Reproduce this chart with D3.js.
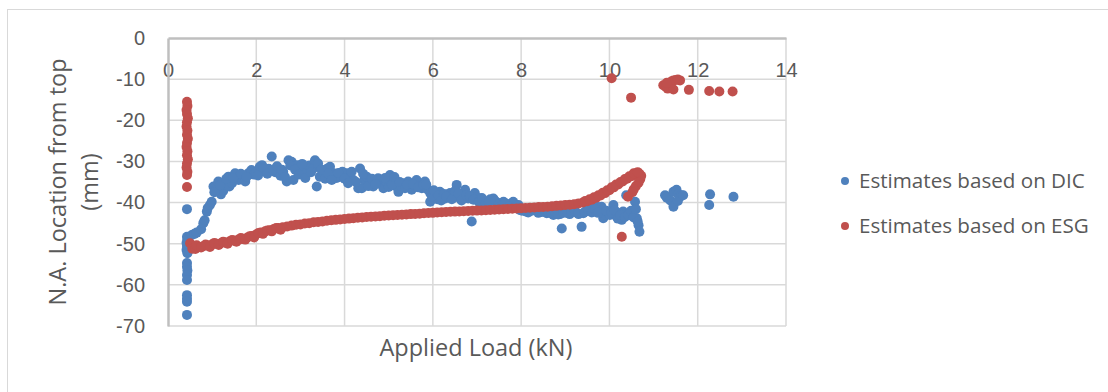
<!DOCTYPE html>
<html>
<head>
<meta charset="utf-8">
<script src="https://cdn.jsdelivr.net/npm/d3@7"></script>
<style>
  html, body { margin: 0; padding: 0; background: #fff; }
  svg { display: block; font-family: "Open Sans", sans-serif; }
</style>
</head>
<body>
<div id="chart"></div>
<script>
// axis ticks
const xTicks = [0, 2, 4, 6, 8, 10, 12, 14];
const yTicks = [0, -10, -20, -30, -40, -50, -60, -70];

// Estimates based on DIC
const dicX = [0.43, 0.43, 0.44, 0.42, 0.43, 0.42, 0.44, 0.43, 0.43, 0.44, 0.43, 0.43, 0.43, 0.43, 0.43, 0.43,
  0.54, 0.6, 0.65, 0.75, 0.8, 0.83, 0.88, 0.9, 0.95, 0.99, 1.03, 1.1, 1.14, 1.2, 1.25, 1.3, 1.37, 1.39, 1.45, 1.52,
  1.6, 1.7, 1.75, 1.82, 1.89, 1.95, 2.0, 2.08, 2.13, 2.2, 2.28, 2.35, 2.43, 2.5, 2.55, 2.61, 2.69, 2.73, 2.8, 2.84,
  2.92, 3.0, 3.07, 3.14, 3.2, 3.29, 3.33, 3.37, 3.44, 3.52, 3.6, 3.67, 3.75, 3.82, 3.9, 3.95, 4.05, 4.12, 4.2, 4.31,
  4.35, 4.39, 4.45, 4.5, 4.58, 4.65, 4.76, 4.82, 4.88, 4.95, 5.03, 5.1, 5.16, 5.22, 5.28, 5.33, 5.44, 5.48, 5.52,
  5.58, 5.63, 5.7, 5.75, 5.82, 5.88, 5.94, 5.94, 6.05, 6.1, 6.16, 6.22, 6.28, 6.34, 6.39, 6.46, 6.54, 6.62, 6.68,
  6.73, 6.8, 6.88, 6.95, 7.0, 7.07, 7.15, 7.22, 7.3, 7.37, 7.45, 7.52, 7.6, 7.67, 7.75, 7.82, 7.9, 7.97, 8.05, 8.12,
  8.2, 8.28, 8.35, 8.43, 8.5, 8.58, 8.65, 8.73, 8.8, 8.88, 8.92, 9.03, 9.1, 9.18, 9.25, 9.37, 9.41, 9.48, 9.56, 9.63,
  9.71, 9.76, 9.82, 9.86, 9.9, 9.96, 10.01, 10.09, 10.16, 10.22, 10.28, 10.31, 10.38, 10.4, 10.46, 10.52, 10.58,
  10.62, 10.66, 10.68,
  11.26, 11.3, 11.38, 11.45, 11.45, 11.52, 11.56, 11.6, 11.63, 11.55, 11.67, 12.26, 12.28, 12.81,
  1.05, 1.18, 1.32, 1.48, 1.65, 1.78, 2.04, 2.17, 2.25, 2.38, 2.47, 2.58, 2.65, 2.77, 2.88, 2.96, 3.04, 3.11, 3.24,
  3.4, 3.48, 3.56, 3.63, 3.71, 3.86, 4.0, 4.08, 4.16, 4.26, 4.42, 4.54, 4.62, 4.7, 4.92, 5.0, 5.07, 5.13, 5.25,
  5.37, 5.41, 5.55, 5.67, 5.79, 5.85, 5.98, 6.02, 6.13, 6.19, 6.25, 6.31, 6.43, 6.5, 6.58, 6.65, 6.76, 6.84, 6.92,
  7.04, 7.11, 7.19, 7.27, 7.41, 7.49, 7.57, 7.64, 7.72, 7.86, 7.94, 8.02, 8.09, 8.16, 8.24, 8.32, 8.39, 8.47, 8.54,
  8.62, 8.69, 8.76, 8.84, 8.96, 9.06, 9.14, 9.21, 9.3, 9.44, 9.52, 9.6, 9.67, 9.74, 9.93, 10.05, 10.12, 10.19,
  10.25, 10.35, 10.43, 10.49, 10.55, 10.6, 10.64];
const dicY = [-41.6, -48.3, -49.0, -49.8, -50.5, -51.5, -52.3, -54.7, -55.6, -56.5, -57.6, -58.8, -62.5, -63.4, -64.1, -67.3,
  -47.9, -47.6, -47.3, -46.5, -45.0, -44.3, -42.2, -41.3, -40.6, -39.8, -36.1, -36.5, -34.9, -38.0, -37.2, -35.6, -33.7, -36.1, -35.3, -32.9,
  -34.5, -33.6, -34.9, -32.9, -32.1, -33.2, -32.5, -31.3, -30.9, -32.5, -31.8, -28.8, -32.6, -32.0, -33.5, -32.5, -34.9, -29.7, -30.1, -34.5,
  -30.9, -31.5, -32.1, -32.9, -31.0, -31.7, -29.7, -36.1, -33.7, -32.9, -31.8, -31.3, -32.9, -34.0, -33.7, -32.5, -32.9, -33.8, -34.5, -36.5,
  -31.7, -36.5, -34.5, -33.7, -35.0, -36.1, -34.1, -35.5, -36.5, -35.0, -33.3, -34.9, -36.0, -37.4, -36.0, -35.3, -34.9, -36.3, -36.9,
  -35.8, -34.5, -35.8, -36.5, -34.9, -36.8, -37.7, -39.8, -38.2, -39.2, -37.4, -38.5, -39.0, -38.0, -37.7, -38.8, -35.7, -39.0, -38.0,
  -36.9, -39.0, -44.6, -37.7, -38.8, -39.0, -39.6, -39.8, -39.2, -39.0, -40.0, -40.2, -39.8, -40.6, -40.3, -39.8, -41.0, -41.8, -41.5, -42.2,
  -41.7, -41.8, -42.0, -42.2, -41.8, -42.6, -42.2, -43.0, -42.4, -42.8, -46.3, -42.2, -42.8, -41.8, -42.4, -45.9, -42.6, -42.0, -41.4, -42.2,
  -41.0, -41.8, -41.0, -43.8, -43.0, -42.4, -43.0, -40.6, -43.4, -42.6, -44.2, -42.2, -38.2, -42.8, -42.6, -43.2, -39.8,
  -43.8, -45.5, -47.1,
  -38.2, -38.8, -39.5, -37.4, -41.0, -36.9, -38.0, -38.6, -38.2, -39.6, -38.2, -40.6, -38.0, -38.6,
  -37.5, -35.8, -34.2, -34.0, -33.0, -33.8, -33.4, -31.6, -33.0, -32.0, -31.2, -32.0, -33.8, -31.0, -32.0, -33.2, -30.6, -34.0, -32.6,
  -30.5, -32.0, -34.2, -33.0, -34.5, -32.8, -34.2, -35.3, -32.5, -35.0, -33.0, -36.0, -34.2, -35.5, -34.0, -36.2, -35.6, -33.8, -35.0,
  -36.5, -35.6, -35.5, -36.3, -35.7, -35.6, -38.5, -37.0, -38.3, -39.5, -37.9, -38.6, -39.2, -37.2, -37.8, -39.5, -38.2, -38.4, -39.3,
  -39.8, -38.9, -40.4, -39.9, -39.6, -40.5, -40.6, -40.2, -41.0, -40.9, -40.6, -42.0, -41.6, -42.4, -42.0, -41.7, -42.5, -42.3, -41.9,
  -42.4, -42.6, -42.1, -42.9, -42.5, -42.6, -42.3, -42.0, -42.8, -42.3, -41.8, -42.4, -41.6, -42.5, -42.0, -42.4, -41.9, -43.9,
  -43.0, -43.5, -43.0, -42.0, -43.6, -41.6, -44.6];

// Estimates based on ESG
const esgX = [0.43, 0.44, 0.42, 0.43, 0.45, 0.43, 0.42, 0.44, 0.43, 0.45, 0.43, 0.42, 0.44, 0.43, 0.45, 0.43, 0.42, 0.44, 0.43, 0.43,
  0.50, 0.55, 0.62, 0.70, 0.80, 0.90, 1.00, 1.10, 1.20, 1.30, 1.40, 1.50, 1.60, 1.70, 1.80, 1.90, 2.00, 2.10, 2.20, 2.30,
  2.40, 2.50, 2.60, 2.70, 2.80, 2.90, 3.00, 3.10, 3.20, 3.30, 3.40, 3.50, 3.60, 3.70, 3.80, 3.90, 4.00, 4.10, 4.20, 4.30,
  4.40, 4.50, 4.60, 4.70, 4.80, 4.90, 5.00, 5.10, 5.20, 5.30, 5.40, 5.50, 5.60, 5.70, 5.80, 5.90, 6.00, 6.10, 6.20, 6.30,
  6.40, 6.50, 6.60, 6.70, 6.80, 6.90, 7.00, 7.10, 7.20, 7.30, 7.40, 7.50, 7.60, 7.70, 7.80, 7.90, 8.00, 8.10, 8.20, 8.30,
  8.40, 8.50, 8.60, 8.70, 8.80, 8.90, 9.00, 9.10, 9.20, 9.30, 9.40, 9.50, 9.60, 9.70, 9.80, 9.90, 10.00, 10.10, 10.20,
  10.30, 10.40, 10.50, 10.60, 10.68, 10.72, 10.70, 10.66, 10.60, 10.55, 10.52,
  10.42, 10.28, 10.05, 10.49, 11.22, 11.28, 11.32, 11.35, 11.40, 11.45, 11.50, 11.55, 11.60, 11.45, 11.30, 11.80, 12.26, 12.49, 12.79,
  0.65, 0.75, 0.85, 0.95, 1.05, 1.15, 1.25, 1.35, 1.45, 1.55, 1.65, 1.75, 1.85, 1.95, 2.05, 2.15, 2.25, 2.35, 2.45, 2.55,
  9.45, 9.55, 9.65, 9.75, 9.85, 9.95, 10.05, 10.15, 10.25, 10.35, 10.45, 10.55, 10.64];
const esgY = [-15.5, -16.5, -17.5, -18.5, -19.5, -20.5, -21.5, -22.5, -23.5, -24.5, -25.5, -26.5, -27.5, -28.5, -29.5, -30.5, -31.5, -32.5, -33.3, -36.2,
  -49.9, -51.2, -51.3, -50.8, -50.6, -50.4, -50.2, -50.0, -49.9, -49.7, -49.4, -49.2, -49.0, -48.8, -48.5, -48.1, -47.7, -47.3, -47.0, -46.7,
  -46.4, -46.2, -46.0, -45.8, -45.6, -45.4, -45.3, -45.1, -45.0, -44.8, -44.7, -44.6, -44.4, -44.3, -44.2, -44.1, -44.0, -43.9, -43.8, -43.7,
  -43.6, -43.5, -43.45, -43.4, -43.3, -43.2, -43.15, -43.1, -43.0, -42.95, -42.9, -42.8, -42.75, -42.7, -42.6, -42.55, -42.5, -42.4, -42.35, -42.3,
  -42.25, -42.2, -42.15, -42.1, -42.05, -42.0, -41.95, -41.9, -41.85, -41.8, -41.75, -41.7, -41.6, -41.55, -41.5, -41.45, -41.4, -41.3, -41.25, -41.2,
  -41.1, -41.05, -41.0, -40.9, -40.8, -40.7, -40.6, -40.5, -40.4, -40.2, -40.0, -39.7, -39.3, -38.8, -38.3, -37.7, -37.0, -36.3, -35.6,
  -34.9, -34.2, -33.6, -33.1, -33.0, -33.5, -34.3, -35.2, -36.0, -36.8, -37.5,
  -38.6, -48.3, -9.8, -14.5, -11.5, -11.9, -12.3, -11.0, -10.6, -10.3, -10.2, -10.1, -10.3, -12.5, -10.9, -12.6, -12.9, -13.0, -13.0,
  -50.4, -50.9, -50.2, -50.8, -49.8, -50.3, -49.5, -50.0, -49.1, -49.5, -48.6, -49.0, -48.2, -48.5, -47.4, -47.6, -46.8, -47.0, -46.2, -46.6,
  -39.6, -39.2, -38.7, -38.2, -37.6, -37.0, -36.3, -35.6, -35.0, -34.3, -33.6, -32.9, -32.6];

const seriesNames = ['Estimates based on DIC', 'Estimates based on ESG'];
const colors = ['#4f81bd', '#c0504d'];

const width = 1108, height = 392;
const plot = { left: 168, right: 786, top: 38, bottom: 326 };

const svg = d3.select('#chart').append('svg')
  .attr('width', width)
  .attr('height', height);

// chart area border
svg.append('rect')
  .attr('x', 7.5).attr('y', 9.5)
  .attr('width', 1200).attr('height', 500)
  .attr('fill', '#fff')
  .attr('stroke', '#d9d9d9')
  .attr('stroke-width', 1);

const x = d3.scaleLinear().domain([0, 14]).range([plot.left, plot.right]);
const y = d3.scaleLinear().domain([-70, 0]).range([plot.bottom, plot.top]);

// gridlines
svg.append('g')
  .selectAll('line')
  .data(xTicks.slice(1))
  .join('line')
  .attr('x1', d => x(d)).attr('x2', d => x(d))
  .attr('y1', plot.top).attr('y2', plot.bottom)
  .attr('stroke', '#d9d9d9').attr('stroke-width', 1.5);

svg.append('g')
  .selectAll('line')
  .data(yTicks.slice(1))
  .join('line')
  .attr('x1', plot.left).attr('x2', plot.right)
  .attr('y1', d => y(d)).attr('y2', d => y(d))
  .attr('stroke', '#d9d9d9').attr('stroke-width', 1.5);

// axes (x axis crosses at 0, i.e. along the top)
const xAxis = svg.append('g')
  .attr('transform', `translate(0,${y(0)})`)
  .call(d3.axisBottom(x).tickValues(xTicks).tickSize(0).tickFormat(d => String(d)));
xAxis.select('.domain').attr('stroke', '#bfbfbf').attr('stroke-width', 2.5);
xAxis.selectAll('text')
  .attr('y', 39).attr('dy', 0)
  .attr('fill', '#595959').style('font-size', '20px');

const yAxis = svg.append('g')
  .attr('transform', `translate(${x(0)},0)`)
  .call(d3.axisLeft(y).tickValues(yTicks).tickSize(0).tickPadding(23).tickFormat(d => String(d)));
yAxis.select('.domain').attr('stroke', '#bfbfbf').attr('stroke-width', 2.5);
yAxis.selectAll('text')
  .attr('fill', '#595959').style('font-size', '20px');

// points
const dicData = dicX.map((d, i) => [d, dicY[i]]);
const esgData = esgX.map((d, i) => [d, esgY[i]]);

[dicData, esgData].forEach((data, k) => {
  svg.append('g')
    .selectAll('circle')
    .data(data)
    .join('circle')
    .attr('cx', d => x(d[0]))
    .attr('cy', d => y(d[1]))
    .attr('r', 5)
    .attr('fill', colors[k]);
});

// axis titles
svg.append('text')
  .attr('x', 476)
  .attr('y', 356)
  .attr('text-anchor', 'middle')
  .attr('fill', '#595959')
  .style('font-size', '23.5px')
  .text('Applied Load (kN)');

const yTitle = svg.append('text')
  .attr('transform', 'translate(0,182) rotate(-90)')
  .attr('text-anchor', 'middle')
  .attr('fill', '#595959')
  .style('font-size', '23.5px');
yTitle.append('tspan').attr('x', 0).attr('y', 66).text('N.A. Location from top');
yTitle.append('tspan').attr('x', 0).attr('y', 98).text('(mm)');

// legend
const legend = svg.append('g');
seriesNames.forEach((name, i) => {
  const ly = 181 + i * 45;
  legend.append('circle')
    .attr('cx', 845).attr('cy', ly).attr('r', 4)
    .attr('fill', colors[i]);
  legend.append('text')
    .attr('x', 859).attr('y', ly + 6.5)
    .attr('fill', '#595959')
    .style('font-size', '20.6px')
    .text(name);
});
</script>
</body>
</html>
